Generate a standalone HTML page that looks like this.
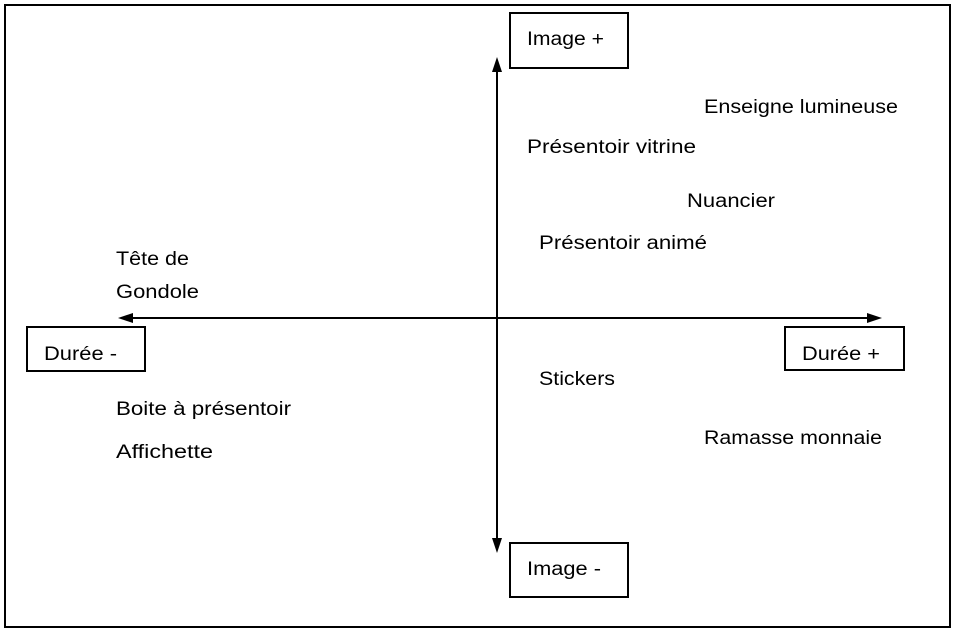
<!DOCTYPE html>
<html><head><meta charset="utf-8"><style>html,body{margin:0;padding:0;background:#fff}svg{display:block}</style></head>
<body>
<svg width="955" height="633" viewBox="0 0 955 633" xmlns="http://www.w3.org/2000/svg" font-family="'Liberation Sans', sans-serif" font-size="19" fill="#000">
<rect x="5" y="5" width="945" height="622" fill="#fff" stroke="#000" stroke-width="2"/>
<!-- axes -->
<line x1="497" y1="70" x2="497" y2="540" stroke="#000" stroke-width="2"/>
<polygon points="497,57 492,72 502,72"/>
<polygon points="497,553 492,538 502,538"/>
<line x1="130" y1="318" x2="870" y2="318" stroke="#000" stroke-width="2"/>
<polygon points="118,318 133,313 133,323"/>
<polygon points="882,318 867,313 867,323"/>
<!-- boxes -->
<rect x="510" y="13" width="118" height="55" fill="#fff" stroke="#000" stroke-width="2"/>
<text x="527" y="45" textLength="77" lengthAdjust="spacingAndGlyphs">Image +</text>
<rect x="510" y="543" width="118" height="54" fill="#fff" stroke="#000" stroke-width="2"/>
<text x="527" y="575" textLength="74" lengthAdjust="spacingAndGlyphs">Image -</text>
<rect x="27" y="327" width="118" height="44" fill="#fff" stroke="#000" stroke-width="2"/>
<text x="44" y="360" textLength="73" lengthAdjust="spacingAndGlyphs">Durée -</text>
<rect x="785" y="327" width="119" height="43" fill="#fff" stroke="#000" stroke-width="2"/>
<text x="802" y="360" textLength="78" lengthAdjust="spacingAndGlyphs">Durée +</text>
<!-- labels -->
<text x="704" y="113" textLength="194" lengthAdjust="spacingAndGlyphs">Enseigne lumineuse</text>
<text x="527" y="153" textLength="169" lengthAdjust="spacingAndGlyphs">Présentoir vitrine</text>
<text x="687" y="207" textLength="88" lengthAdjust="spacingAndGlyphs">Nuancier</text>
<text x="539" y="249" textLength="168" lengthAdjust="spacingAndGlyphs">Présentoir animé</text>
<text x="116" y="265" textLength="73" lengthAdjust="spacingAndGlyphs">Tête de</text>
<text x="116" y="298" textLength="83" lengthAdjust="spacingAndGlyphs">Gondole</text>
<text x="539" y="385" textLength="76" lengthAdjust="spacingAndGlyphs">Stickers</text>
<text x="116" y="415" textLength="175" lengthAdjust="spacingAndGlyphs">Boite à présentoir</text>
<text x="704" y="444" textLength="178" lengthAdjust="spacingAndGlyphs">Ramasse monnaie</text>
<text x="116" y="458" textLength="97" lengthAdjust="spacingAndGlyphs">Affichette</text>
</svg>
</body></html>
